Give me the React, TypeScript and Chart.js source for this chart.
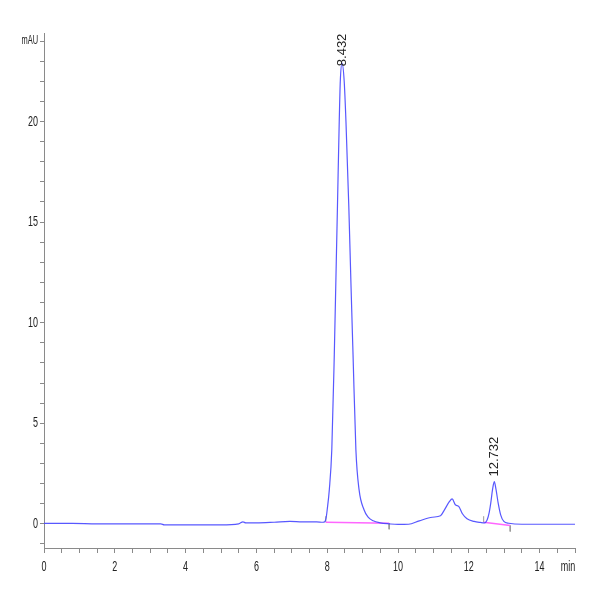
import React, { useEffect, useRef } from "react";
import { Chart, registerables } from "chart.js";

Chart.register(...registerables);

// Chromatogram trace (retention time in min, absorbance in mAU)
const traceTime: number[] = [
  0, 0.8, 1.5, 2.5, 3.3, 3.4, 4.0, 5.0, 5.5, 5.62, 5.7, 6.0, 6.5, 6.95, 7.3, 7.7, 7.88, 7.93, 7.97,
  8.0, 8.06, 8.13, 8.2, 8.25, 8.29, 8.34, 8.37, 8.42, 8.48, 8.53, 8.61, 8.67, 8.73, 8.81, 8.9, 9.04,
  9.15, 9.3, 9.5, 9.75, 10.0, 10.3, 10.6, 10.97, 11.2, 11.3, 11.45, 11.53, 11.62, 11.72, 11.82, 11.95,
  12.15, 12.33, 12.45, 12.52, 12.58, 12.62, 12.67, 12.72, 12.77, 12.83, 12.9, 12.99, 13.13, 13.5, 14.0, 15.0,
];
const traceSignal: number[] = [
  0.02, 0.02, 0.0, 0.0, 0.0, -0.05, -0.05, -0.05, 0.0, 0.1, 0.05, 0.05, 0.08, 0.12, 0.1, 0.1, 0.08, 0.1, 0.3,
  0.7, 1.7, 3.7, 8.4, 12.5, 15.8, 20.0, 22.0, 22.9, 22.0, 20.0, 15.8, 12.0, 8.4, 3.7, 1.7, 0.7,
  0.35, 0.15, 0.05, 0.0, -0.03, -0.02, 0.15, 0.33, 0.4, 0.66, 1.1, 1.24, 0.95, 0.86, 0.5, 0.25,
  0.12, 0.07, 0.05, 0.2, 0.6, 1.03, 1.7, 2.1, 1.7, 1.03, 0.45, 0.12, 0.03, -0.02, -0.02, -0.02,
];

// Integration baselines (start/end time, start/end value)
const baseStartT: number[] = [7.96, 12.42];
const baseEndT: number[] = [9.75, 13.17];
const baseStartV: number[] = [0.08, 0.08];
const baseEndV: number[] = [0.03, -0.08];

// Peak annotations
const peakLabels: string[] = ["8.432", "12.732"];
const peakLabelT: number[] = [8.42, 12.72];
const peakLabelV: number[] = [22.75, 2.35];

// Axis ticks
const xMin = 0, xMax = 15, xLabelStep = 2, xMinorStep = 0.5, xLastLabel = 14;
const yMin = -1.2, yMax = 24.4, yLabelStep = 5, yUnitTick = 24;
const xUnit = "min";
const yUnit = "mAU";

const FONT = "'Liberation Sans', Arial, sans-serif";
const AXIS = "#8a8a8a";
const SQUEEZE = 0.62;

function narrowText(ctx: any, txt: string, x: number, y: number, align: string, size: number) {
  ctx.save();
  ctx.font = size + "px " + FONT;
  ctx.textBaseline = "middle";
  ctx.textAlign = align;
  ctx.translate(x, y);
  ctx.scale(SQUEEZE, 1);
  ctx.fillText(txt, 0, 0);
  ctx.restore();
}

export default function App() {
  const ref = useRef<HTMLCanvasElement>(null);
  useEffect(() => {
    if (!ref.current) return;
    const trace = traceTime.map((t, i) => ({ x: t, y: traceSignal[i] }));
    const baseSets = baseStartT.map((t, i) => ({
      data: [{ x: t, y: baseStartV[i] }, { x: baseEndT[i], y: baseEndV[i] }],
      borderColor: "#ff66ff",
      borderWidth: 1.5,
      pointRadius: 0,
      showLine: true,
      order: 2,
    }));
    const markSets: any[] = [];
    baseStartT.forEach((t, i) => {
      markSets.push({
        data: [{ x: t, y: baseStartV[i] }, { x: t, y: baseStartV[i] + 0.3 }],
        borderColor: "#999", borderWidth: 1, pointRadius: 0, showLine: true, order: 3,
      });
      markSets.push({
        data: [{ x: baseEndT[i], y: baseEndV[i] }, { x: baseEndT[i], y: baseEndV[i] - 0.3 }],
        borderColor: "#999", borderWidth: 1, pointRadius: 0, showLine: true, order: 3,
      });
    });

    const labelPlugin = {
      id: "textLabels",
      afterDraw(chart: any) {
        const ctx = chart.ctx;
        const xs = chart.scales.x, ys = chart.scales.y;
        ctx.save();
        ctx.fillStyle = "#222";
        // peak labels
        ctx.font = "13px " + FONT;
        peakLabels.forEach((txt, i) => {
          const px = xs.getPixelForValue(peakLabelT[i]);
          const py = ys.getPixelForValue(peakLabelV[i]);
          ctx.save();
          ctx.translate(px, py);
          ctx.rotate(-Math.PI / 2);
          ctx.textAlign = "left";
          ctx.textBaseline = "middle";
          ctx.fillText(txt, 0, 0);
          ctx.restore();
        });
        // x tick labels
        const xLabelY = xs.top + 19;
        for (let v = xMin; v <= xLastLabel + 1e-9; v += xLabelStep) {
          narrowText(ctx, String(v), xs.getPixelForValue(v), xLabelY, "center", 14.5);
        }
        narrowText(ctx, xUnit, xs.right - 7, xLabelY, "center", 14.5);
        // y tick labels
        const yLabelX = ys.right - 6;
        for (let v = 0; v <= yMax; v += yLabelStep) {
          narrowText(ctx, String(v), yLabelX, ys.getPixelForValue(v), "right", 14.5);
        }
        narrowText(ctx, yUnit, yLabelX, ys.getPixelForValue(yUnitTick), "right", 12);
        ctx.restore();
      },
    };

    const chart = new Chart(ref.current, {
      type: "scatter",
      data: {
        datasets: [
          {
            data: trace,
            borderColor: "rgba(70,70,255,0.9)",
            borderWidth: 1.2,
            pointRadius: 0,
            showLine: true,
            cubicInterpolationMode: "monotone",
            order: 1,
          } as any,
          ...baseSets,
          ...markSets,
        ],
      },
      options: {
        animation: false,
        responsive: false,
        devicePixelRatio: 1,
        layout: { padding: { left: 0, top: 33, right: 25, bottom: 0 } },
        plugins: { legend: { display: false }, tooltip: { enabled: false } },
        scales: {
          x: {
            type: "linear",
            min: xMin,
            max: xMax,
            afterBuildTicks: (s: any) => {
              const t = [];
              for (let v = xMin; v <= xMax + 1e-9; v += xMinorStep) t.push({ value: v });
              s.ticks = t;
            },
            afterFit: (s: any) => { s.height = 52; },
            ticks: { display: false, autoSkip: false, maxRotation: 0 },
            grid: { drawOnChartArea: false, drawTicks: true, tickLength: 5, color: AXIS },
            border: { color: AXIS, width: 1 },
          },
          y: {
            type: "linear",
            min: yMin,
            max: yMax,
            afterBuildTicks: (s: any) => {
              const t = [];
              for (let v = Math.ceil(yMin); v <= Math.floor(yMax); v += 1) t.push({ value: v });
              s.ticks = t;
            },
            afterFit: (s: any) => { s.width = 44; },
            ticks: { display: false, autoSkip: false },
            grid: { drawOnChartArea: false, drawTicks: true, tickLength: 4, color: AXIS },
            border: { color: AXIS, width: 1 },
          },
        },
      },
      plugins: [labelPlugin],
    });
    return () => chart.destroy();
  }, []);
  return (
    <div style={{ position: "absolute", left: 0, top: 0, width: 600, height: 600, background: "#fff" }}>
      <canvas ref={ref} width={600} height={600} style={{ width: 600, height: 600 }} />
    </div>
  );
}
